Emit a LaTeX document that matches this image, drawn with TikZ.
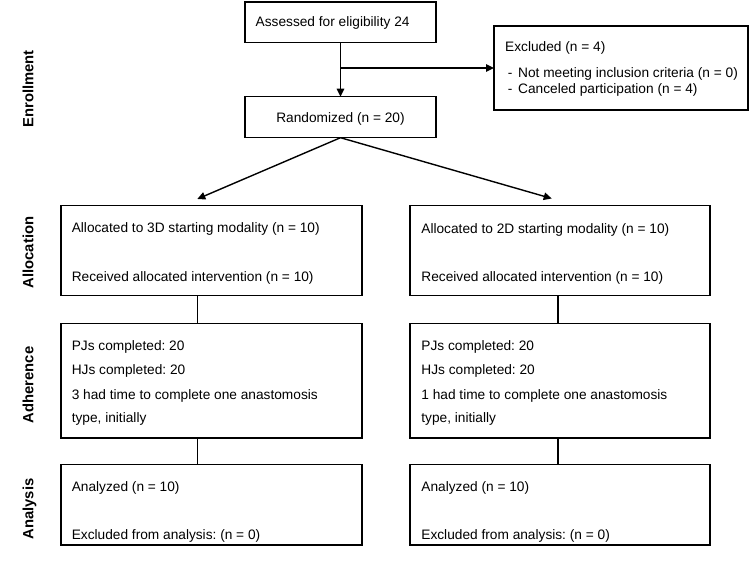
\documentclass[tikz,border=0pt]{standalone}
\usepackage{fontspec}
\setmainfont{Liberation Sans}
\usetikzlibrary{arrows.meta}
\frenchspacing
\tikzset{
  box/.style={draw, line width=1.4pt, inner sep=0pt, outer sep=0pt, anchor=north west},
  txt/.style={anchor=base west, inner sep=0pt, font=\fontsize{13.7}{16}\selectfont},
  ctxt/.style={anchor=base, inner sep=0pt, font=\fontsize{13.7}{16}\selectfont},
  lbl/.style={anchor=base, rotate=90, inner sep=0pt, font=\fontsize{14.8}{17}\selectfont\bfseries},
  conn/.style={line width=1.4pt},
  arr/.style={conn, -{Triangle[length=8pt,width=7.5pt]}}
}
\begin{document}
\begin{tikzpicture}[x=1pt,y=-1pt]
\useasboundingbox (0,0) rectangle (749,564);

% boxes
\node[box, minimum width=191pt, minimum height=40.5pt] (assess) at (245,2) {};
\node[box, minimum width=191pt, minimum height=41pt] (random) at (245,96.7) {};
\node[box, minimum width=254pt, minimum height=84pt] (excl) at (494,26) {};
\node[box, minimum width=301pt, minimum height=90pt] (allocL) at (61,205.5) {};
\node[box, minimum width=300pt, minimum height=90pt] (allocR) at (410,205.5) {};
\node[box, minimum width=301pt, minimum height=114.5pt] (adhL) at (61,323.5) {};
\node[box, minimum width=300pt, minimum height=114.5pt] (adhR) at (410,323.5) {};
\node[box, minimum width=301pt, minimum height=80.7pt] (anaL) at (61,464.3) {};
\node[box, minimum width=300pt, minimum height=80.7pt] (anaR) at (410,464.3) {};

% texts
\node[txt] (tAssess) at (255.5,26.5) {Assessed for eligibility 24};
\node[ctxt] (tRandom) at (340.5,123) {Randomized (n = 20)};
\node[txt] (tExcl1) at (505,51.5) {Excluded (n = 4)};
\node[txt] (tExcl2) at (507.6,77.5) {\makebox[10.4pt][l]{-}Not meeting inclusion criteria (n = 0)};
\node[txt] (tExcl3) at (507.6,94) {\makebox[10.4pt][l]{-}Canceled participation (n = 4)};

\node[txt] (tAL1) at (71.6,232.5) {Allocated to 3D starting modality (n = 10)};
\node[txt] (tAL2) at (71.6,281) {Received allocated intervention (n = 10)};
\node[txt] (tAR1) at (421.2,233) {Allocated to 2D starting modality (n = 10)};
\node[txt] (tAR2) at (421.2,281.5) {Received allocated intervention (n = 10)};

\node[txt] (tDL1) at (71.6,350) {PJs completed: 20};
\node[txt] (tDL2) at (71.6,374) {HJs completed: 20};
\node[txt] (tDL3) at (71.6,399) {3 had time to complete one anastomosis};
\node[txt] (tDL4) at (71.6,422.5) {type, initially};
\node[txt] (tDR1) at (421.2,350) {PJs completed: 20};
\node[txt] (tDR2) at (421.2,374) {HJs completed: 20};
\node[txt] (tDR3) at (421.2,399) {1 had time to complete one anastomosis};
\node[txt] (tDR4) at (421.2,422.5) {type, initially};

\node[txt] (tNL1) at (71.6,491.5) {Analyzed (n = 10)};
\node[txt] (tNL2) at (71.6,539) {Excluded from analysis: (n = 0)};
\node[txt] (tNR1) at (421.2,491.5) {Analyzed (n = 10)};
\node[txt] (tNR2) at (421.2,539) {Excluded from analysis: (n = 0)};

% side labels
\node[lbl] (lEnroll) at (33.3,88.8) {Enrollment};
\node[lbl] (lAlloc) at (33.3,252.5) {Allocation};
\node[lbl] (lAdh) at (33.3,385) {Adherence};
\node[lbl] (lAna) at (33.3,509) {Analysis};

% connectors
\draw[arr] (assess.south) -- (random.north);
\coordinate (br) at (assess.south |- excl.west);
\draw[arr] (br) -- (excl.west);
\coordinate (tipL) at (197.3,199);
\coordinate (tipR) at (551.7,198.5);
\draw[arr] (random.south) -- (tipL);
\draw[arr] (random.south) -- (tipR);
\coordinate (colL) at (197.3,0);
\coordinate (colR) at (557.8,0);
\draw[conn] (allocL.south -| colL) -- (adhL.north -| colL);
\draw[conn] (allocR.south -| colR) -- (adhR.north -| colR);
\draw[conn] (adhL.south -| colL) -- (anaL.north -| colL);
\draw[conn] (adhR.south -| colR) -- (anaR.north -| colR);
\end{tikzpicture}
\end{document}
